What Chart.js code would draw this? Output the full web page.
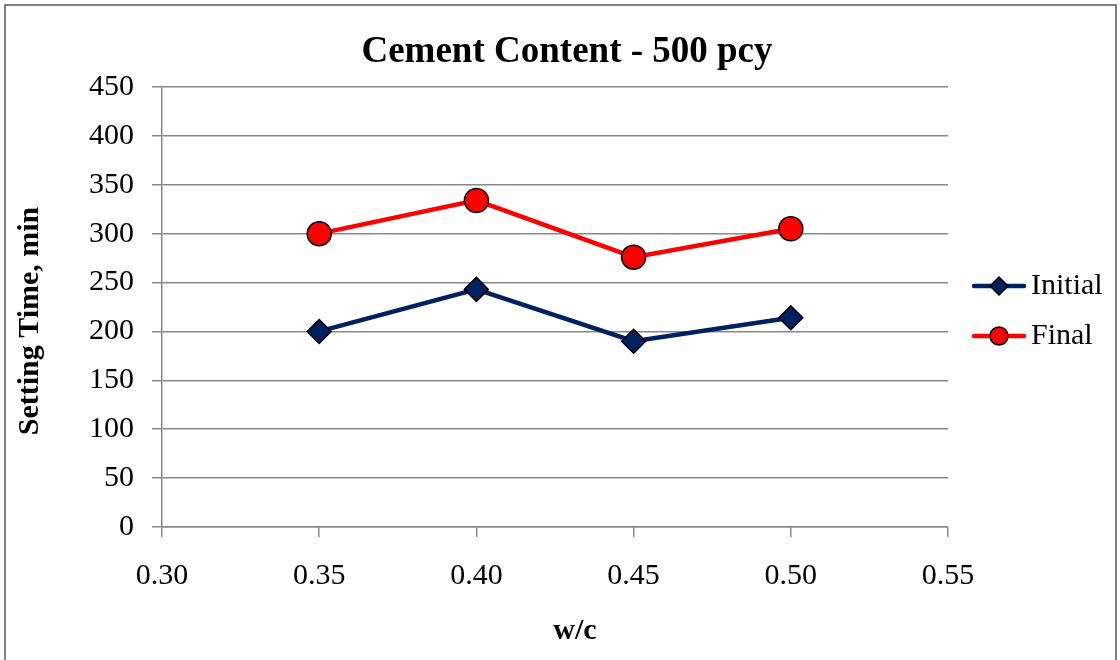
<!DOCTYPE html>
<html>
<head>
<meta charset="utf-8">
<title>Cement Content - 500 pcy</title>
<script src="https://cdn.jsdelivr.net/npm/chart.js@4/dist/chart.umd.min.js"></script>
<style>
    html, body { margin: 0; padding: 0; background: #fff; }
    canvas { display: block; }
</style>
</head>
<body>
<canvas id="settingChart" width="1120" height="660"></canvas>
<script>
// data
const wcRatios = [0.35, 0.40, 0.45, 0.50];
const initialTimes = [200, 243, 190, 214];
const finalTimes = [300, 334, 276, 305];
const xTicks = [0.30, 0.35, 0.40, 0.45, 0.50, 0.55];
const yTicks = [0, 50, 100, 150, 200, 250, 300, 350, 400, 450];
const seriesNames = ['Initial', 'Final'];

const serif = '"Liberation Serif", "Times New Roman", serif';
const gridGray = '#888888';

// titles, legend and frame drawn on top of the chart
const decorPlugin = {
    id: 'decor',
    afterDraw(chart) {
        const ctx = chart.ctx;
        ctx.save();

        // outer frame
        ctx.strokeStyle = '#555555';
        ctx.lineWidth = 1.5;
        ctx.strokeRect(5, 5, 1111, 700);

        ctx.fillStyle = '#000';
        ctx.textAlign = 'center';
        ctx.textBaseline = 'alphabetic';
        ctx.font = 'bold 37px ' + serif;
        ctx.fillText('Cement Content - 500 pcy', 567, 62);

        ctx.font = 'bold 30px ' + serif;
        ctx.fillText('w/c', 575, 639);

        ctx.save();
        ctx.translate(38, 321);
        ctx.rotate(-Math.PI / 2);
        ctx.fillText('Setting Time, min', 0, 0);
        ctx.restore();

        // legend: line with marker
        chart.data.datasets.forEach((ds, i) => {
            const y = 286 + i * 50;
            ctx.strokeStyle = ds.borderColor;
            ctx.lineWidth = 4.5;
            ctx.lineCap = 'round';
            ctx.beginPath();
            ctx.moveTo(974, y);
            ctx.lineTo(1024, y);
            ctx.stroke();

            ctx.fillStyle = ds.pointBackgroundColor;
            ctx.strokeStyle = ds.pointBorderColor;
            ctx.lineWidth = ds.pointBorderWidth;
            Chart.helpers.drawPoint(ctx, {
                pointStyle: ds.pointStyle,
                radius: 9,
                rotation: 0,
                borderWidth: ds.pointBorderWidth
            }, 999, y);

            ctx.fillStyle = '#000';
            ctx.textAlign = 'left';
            ctx.textBaseline = 'middle';
            ctx.font = '30px ' + serif;
            ctx.fillText(ds.label, 1031, y);
        });

        ctx.restore();
    }
};

const ctx = document.getElementById('settingChart').getContext('2d');
new Chart(ctx, {
    type: 'line',
    data: {
        datasets: [{
            label: seriesNames[0],
            data: wcRatios.map((x, i) => ({ x: x, y: initialTimes[i] })),
            borderColor: '#002060',
            borderWidth: 4.5,
            pointStyle: 'rectRot',
            pointRadius: 12,
            pointHoverRadius: 12,
            pointBackgroundColor: '#002060',
            pointBorderColor: '#000000',
            pointBorderWidth: 1.5,
            tension: 0
        }, {
            label: seriesNames[1],
            data: wcRatios.map((x, i) => ({ x: x, y: finalTimes[i] })),
            borderColor: '#ff0000',
            borderWidth: 4.5,
            pointStyle: 'circle',
            pointRadius: 12,
            pointHoverRadius: 12,
            pointBackgroundColor: '#ff0000',
            pointBorderColor: '#000000',
            pointBorderWidth: 1.5,
            tension: 0
        }]
    },
    options: {
        responsive: false,
        animation: false,
        layout: {
            padding: { top: 87, right: 172, left: 0, bottom: 0 }
        },
        scales: {
            x: {
                type: 'linear',
                min: 0.30,
                max: 0.55,
                afterBuildTicks: scale => { scale.ticks = xTicks.map(v => ({ value: v })); },
                afterFit: scale => { scale.height = 133; },
                ticks: {
                    color: '#000',
                    font: { family: serif, size: 30 },
                    padding: 21,
                    maxRotation: 0,
                    callback: v => v.toFixed(2)
                },
                grid: {
                    drawOnChartArea: false,
                    drawTicks: true,
                    tickLength: 10,
                    color: gridGray,
                    lineWidth: 1.5
                },
                border: { color: gridGray, width: 1.5 }
            },
            y: {
                min: 0,
                max: 450,
                afterBuildTicks: scale => { scale.ticks = yTicks.map(v => ({ value: v })); },
                afterFit: scale => { scale.width = 162; },
                ticks: {
                    color: '#000',
                    font: { family: serif, size: 30 },
                    padding: 18,
                    callback: v => String(v)
                },
                grid: {
                    color: gridGray,
                    lineWidth: 1.5,
                    tickLength: 10
                },
                border: { color: gridGray, width: 1.5 }
            }
        },
        plugins: {
            legend: { display: false },
            title: { display: false },
            tooltip: { enabled: false }
        }
    },
    plugins: [decorPlugin]
});
</script>
</body>
</html>
